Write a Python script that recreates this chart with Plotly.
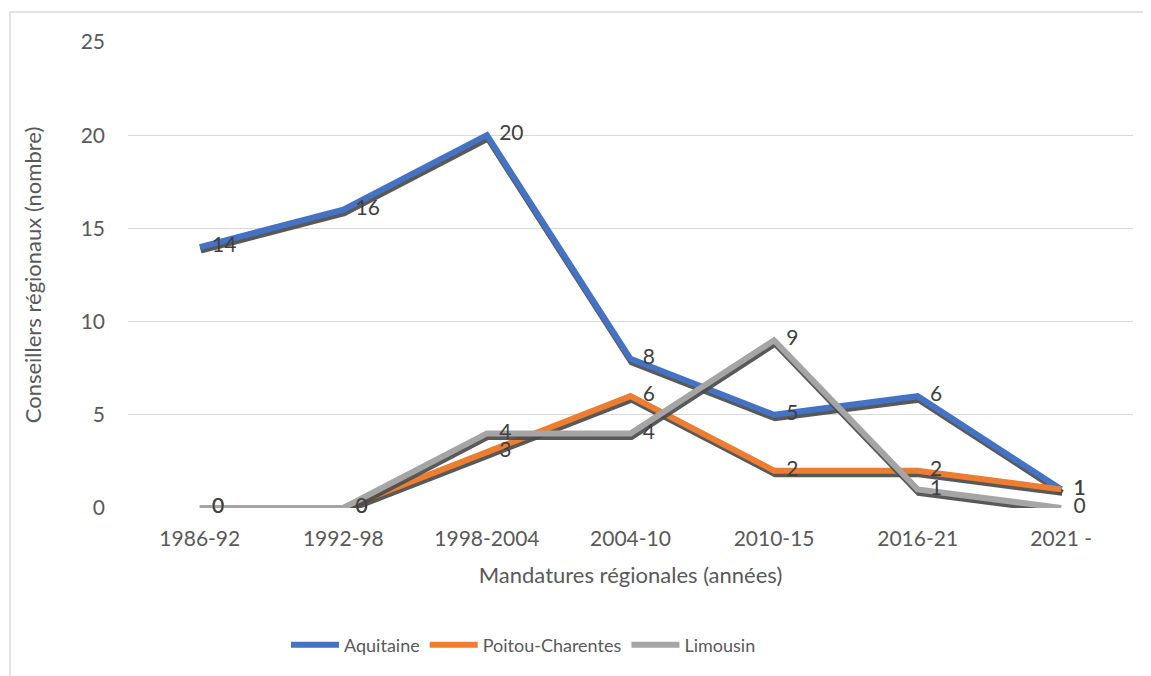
import plotly.graph_objects as go

categories = ["1986-92", "1992-98", "1998-2004", "2004-10", "2010-15", "2016-21", "2021 -"]
aquitaine = [14, 16, 20, 8, 5, 6, 1]
poitou = [0, 0, 3, 6, 2, 2, 1]
limousin = [0, 0, 4, 4, 9, 1, 0]
y_ticks = [0, 5, 10, 15, 20, 25]

series = [
    ("Aquitaine", aquitaine, "#4472C4"),
    ("Poitou-Charentes", poitou, "#ED7D31"),
    ("Limousin", limousin, "#A5A5A5"),
]

# page body has an 8px margin; figure placed at (8, 8)
OFF = 8
W, H = 1143, 668
L, T = 128 - OFF, 42 - OFF
R = W - (1133 - OFF)
B = H - (508 - OFF)
pw, ph = W - L - R, H - T - B
FONT = "Lato, 'Open Sans', sans-serif"

dx_px, dy_px = 1.0, 3.5
dx = dx_px / (pw / 7)
dy = dy_px * 25 / ph

fig = go.Figure()
# base trace on main axes (invisible) to hold the category ticks
fig.add_trace(go.Scatter(x=categories, y=aquitaine, mode="lines",
                         line=dict(color="rgba(0,0,0,0)"), showlegend=False,
                         hoverinfo="skip"))

axes = {}
k = 2
for name, vals, col in series:
    sx, sy = f"x{k}", f"y{k}"
    fig.add_trace(go.Scatter(
        x=categories, y=vals, mode="lines", xaxis=sx, yaxis=sy,
        line=dict(color="rgba(75,75,75,0.92)", width=6),
        showlegend=False, hoverinfo="skip", cliponaxis=False))
    axes[k] = True  # shadow axis
    k += 1
    lx, ly = f"x{k}", f"y{k}"
    fig.add_trace(go.Scatter(
        x=categories, y=vals, mode="lines+markers+text", name=name,
        xaxis=lx, yaxis=ly,
        marker=dict(size=18, color="rgba(0,0,0,0)"),
        text=[str(v) for v in vals], textposition="middle right",
        textfont=dict(family=FONT, size=21, color="#404040"),
        line=dict(color=col, width=6), cliponaxis=False))
    axes[k] = False
    k += 1

layout_axes = {}
for i, is_shadow in axes.items():
    sh_x = dx if is_shadow else 0.0
    sh_y = dy if is_shadow else 0.0
    layout_axes[f"xaxis{i}"] = dict(type="category", categoryorder="array",
                                    categoryarray=categories, overlaying="x",
                                    range=[-0.5 - sh_x, 6.5 - sh_x], visible=False)
    layout_axes[f"yaxis{i}"] = dict(overlaying="y", range=[sh_y, 25 + sh_y],
                                    visible=False)

fig.update_layout(
    width=W, height=H,
    margin=dict(l=L, r=R, t=T, b=B),
    paper_bgcolor="white", plot_bgcolor="white",
    font=dict(family=FONT, size=20, color="#595959"),
    xaxis=dict(type="category", categoryorder="array", categoryarray=categories,
               range=[-0.5, 6.5], showgrid=False, zeroline=False, showline=False,
               ticks="", ticklabelstandoff=16,
               tickfont=dict(size=21, color="#595959"),
               title=dict(text="Mandatures régionales (années)", standoff=18,
                          font=dict(size=22, color="#595959"))),
    yaxis=dict(range=[0, 25], tickvals=y_ticks, showgrid=True, gridcolor="#D9D9D9",
               gridwidth=1, zeroline=False, showline=False, ticks="",
               ticklabelstandoff=22, tickfont=dict(size=21, color="#595959"),
               title=dict(text="Conseillers régionaux (nombre)", standoff=32,
                          font=dict(size=22, color="#595959"))),
    legend=dict(orientation="h", x=(286 - 128) / pw, xanchor="left",
                y=(508 - 645) / ph, yanchor="middle",
                font=dict(size=18, color="#595959"), itemwidth=48,
                tracegroupgap=0),
    shapes=[
        dict(type="line", xref="paper", yref="paper",
             x0=(10 - 128) / pw, x1=(1151 - 128) / pw,
             y0=1 + (42 - 12) / ph, y1=1 + (42 - 12) / ph,
             line=dict(color="#D9D9D9", width=1.5)),
        dict(type="line", xref="paper", yref="paper",
             x0=(10 - 128) / pw, x1=(10 - 128) / pw,
             y0=1 + (42 - 12) / ph, y1=-(676 - 508) / ph,
             line=dict(color="#D9D9D9", width=1.5)),
    ],
    **layout_axes,
)

fig.write_html("out.html")
